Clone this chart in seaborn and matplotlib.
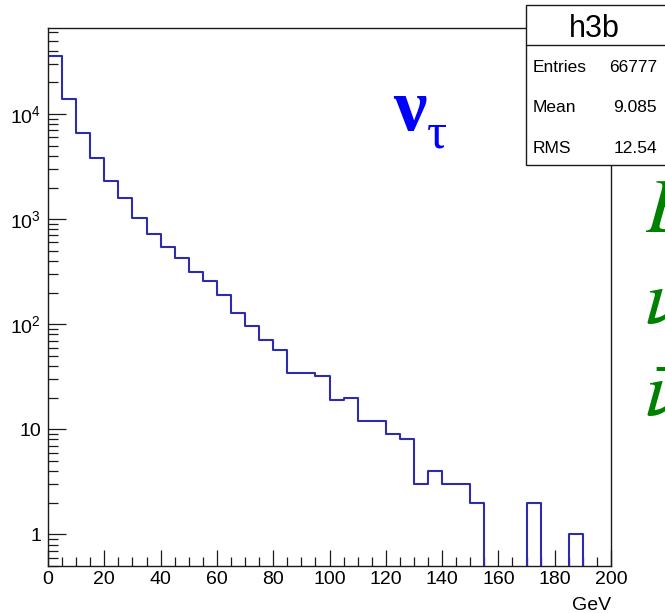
import numpy as np
import pandas as pd
import matplotlib
matplotlib.use("Agg")
import matplotlib.pyplot as plt
from matplotlib.ticker import MultipleLocator, LogLocator, FuncFormatter, NullFormatter
from matplotlib.patches import Rectangle
from matplotlib.lines import Line2D
import seaborn as sns

# Energy spectrum: 40 bins of 5 GeV between 0 and 200 GeV
bin_edges = list(range(0, 205, 5))
counts = [35500, 14000, 6650, 3780, 2300, 1585, 1023, 724, 548, 428,
          315, 260, 191, 127, 97, 71, 57, 34, 34, 32,
          19, 20, 12, 12, 9, 8, 3, 4, 3, 3,
          2, 0, 0, 0, 2, 0, 0, 1, 0, 0]

hist_name = "h3b"
stat_labels = ["Entries", "Mean", "RMS"]
stat_values = ["66777", "9.085", "12.54"]
x_unit = "GeV"
flavour_label = ("ν", "τ")
side_labels = [r"$E$", r"$\nu$", r"$\bar{\nu}$"]

sns.set_style("white")
plt.rcParams["font.family"] = ["Liberation Sans", "DejaVu Sans"]
plt.rcParams["mathtext.fontset"] = "custom"
plt.rcParams["mathtext.rm"] = "Liberation Sans"
plt.rcParams["mathtext.it"] = "Liberation Sans:italic"
plt.rcParams["mathtext.bf"] = "Liberation Sans:bold"
plt.rcParams["text.color"] = "black"
plt.rcParams["xtick.color"] = "black"
plt.rcParams["ytick.color"] = "black"

W, H = 665, 613
fig = plt.figure(figsize=(W / 100, H / 100), dpi=100)
fig.patch.set_facecolor("white")
ax = fig.add_axes([48 / W, 1 - 566 / H, (611 - 48) / W, (566 - 28) / H])

edges = np.asarray(bin_edges, dtype=float)
centers = edges[:-1] + np.diff(edges) / 2
df = pd.DataFrame({"energy": centers, "entries": counts})
sns.histplot(data=df, x="energy", weights="entries", bins=bin_edges,
             element="step", fill=False, color="#2d2dab", linewidth=1.5, ax=ax)

ax.set_yscale("log")
ax.set_xlim(bin_edges[0], bin_edges[-1])
ax.set_ylim(0.5, 6.6e4)
ax.set_xlabel("")
ax.set_ylabel("")

for sp in ax.spines.values():
    sp.set_visible(True)
    sp.set_linewidth(1.0)
    sp.set_color("#1a1a1a")

ax.xaxis.set_major_locator(MultipleLocator(20))
ax.xaxis.set_minor_locator(MultipleLocator(5))
ax.yaxis.set_major_locator(LogLocator(base=10, numticks=12))
ax.yaxis.set_minor_locator(LogLocator(base=10, subs=np.arange(2, 10), numticks=40))
ax.yaxis.set_minor_formatter(NullFormatter())


def log_label(v, pos):
    e = int(round(np.log10(v)))
    if e == 0:
        return "1"
    if e == 1:
        return "10"
    return r"$\mathregular{10^{%d}}$" % e


ax.yaxis.set_major_formatter(FuncFormatter(log_label))

ax.tick_params(axis="x", which="major", direction="in", length=11.5, width=0.9,
               pad=3.5, labelsize=14, top=False, bottom=True,
               color="#1a1a1a", labelcolor="black")
ax.tick_params(axis="x", which="minor", direction="in", length=6.5, width=0.9,
               top=False, bottom=True, color="#1a1a1a")
ax.tick_params(axis="y", which="major", direction="in", length=13, width=0.9,
               pad=5, labelsize=14, right=False, left=True,
               color="#1a1a1a", labelcolor="black")
ax.tick_params(axis="y", which="minor", direction="in", length=7, width=0.9,
               right=False, left=True, color="#1a1a1a")

fig.text(611 / W, 1 - 610 / H, x_unit, ha="right", va="baseline", fontsize=14)

# statistics box in the upper right corner
box_left, box_top, box_bottom, title_sep = 526, 4.5, 164.5, 45
fig.add_artist(Rectangle((box_left / W, 1 - box_bottom / H), (720 - box_left) / W,
                         (box_bottom - box_top) / H, transform=fig.transFigure,
                         facecolor="white", edgecolor="#1a1a1a", lw=1.0,
                         clip_on=False, zorder=5))
fig.add_artist(Line2D([box_left / W, 1.1], [1 - title_sep / H] * 2,
                      transform=fig.transFigure, color="#1a1a1a", lw=1.0, zorder=6))
fig.text(594 / W, 1 - 37 / H, hist_name, ha="center", va="baseline",
         fontsize=22, zorder=7)
for i, (lab, val) in enumerate(zip(stat_labels, stat_values)):
    yb = 1 - (71.7 + 40.5 * i) / H
    fig.text(533 / W, yb, lab, ha="left", va="baseline", fontsize=12.5, zorder=7)
    fig.text(657 / W, yb, val, ha="right", va="baseline", fontsize=12.5, zorder=7)

# neutrino flavour label
fig.text(393 / W, 1 - 130 / H, flavour_label[0], color="#0000ff", fontsize=54,
         family="Liberation Serif", weight="bold", va="baseline")
fig.text(427 / W, 1 - 148 / H, flavour_label[1], color="#0000ff", fontsize=36,
         family="Liberation Serif", va="baseline")

# green labels running past the right edge
for txt, yb in zip(side_labels, [232, 323, 416]):
    fig.text(645 / W, 1 - yb / H, txt, color="#008000", fontsize=55,
             math_fontfamily="stix", va="baseline")

fig.savefig("out.png", dpi=100)
